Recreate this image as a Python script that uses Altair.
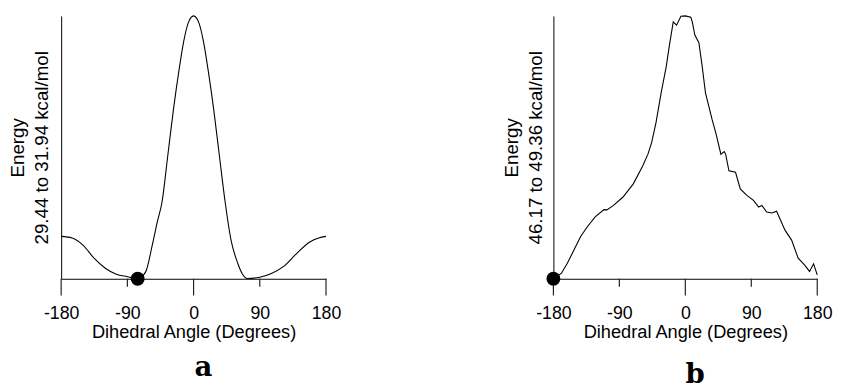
import altair as alt
import pandas as pd

# ---- data ----
x_ticks = [-180, -90, 0, 90, 180]
major_ticks = [-180, 0, 180]
minor_ticks = [-90, 90]

a_angle = [-180, -165, -150, -135, -120, -105, -90, -76, -65, -56, -49, -43, -35, -27, -20, -13.4, -7, 0,
           7, 13.4, 20, 27, 35, 43, 51, 60, 67, 73, 90, 105, 122, 140, 158, 170, 180]
a_energy = [29.843, 29.828, 29.758, 29.633, 29.540, 29.483, 29.460, 29.440, 29.508, 29.765, 29.990, 30.165,
            30.615, 31.070, 31.415, 31.698, 31.878, 31.940, 31.878, 31.698, 31.415, 31.070, 30.615, 30.165,
            29.805, 29.588, 29.478, 29.443, 29.455, 29.488, 29.555, 29.680, 29.790, 29.828, 29.843]
a_min_angle = [-76]
a_min_energy = [29.44]
a_range = [29.44, 31.94]

b_angle = [-180, -169, -161, -152, -143, -134, -123, -111, -107, -98, -85, -71, -58, -51, -46, -40, -33, -26,
           -22, -16.5, -12, -6, 0, 7.5, 9.5, 13, 18.5, 23, 27.5, 36.5, 42, 48.5, 53, 55, 59.5, 68.5, 75, 84,
           93, 100, 104.5, 111, 118, 124.5, 136, 145, 154, 162.5, 169.5, 175, 180]
b_energy = [46.170, 46.237, 46.358, 46.518, 46.680, 46.798, 46.920, 47.009, 47.006, 47.060, 47.162, 47.322,
            47.542, 47.682, 47.822, 48.065, 48.425, 48.748, 48.987, 49.287, 49.248, 49.357, 49.360, 49.344,
            49.287, 49.127, 49.035, 48.748, 48.425, 48.103, 47.925, 47.682, 47.714, 47.682, 47.481, 47.462,
            47.261, 47.181, 47.121, 47.041, 47.060, 46.980, 46.968, 46.990, 46.760, 46.639, 46.419, 46.339,
            46.259, 46.352, 46.218]
b_min_angle = [-180]
b_min_energy = [46.17]
b_range = [46.17, 49.36]

FONT = "Liberation Sans"
MAJOR_LEN = 17
MINOR_LEN = 8
TICK_COLOR = "#222222"


def panel(angles, energies, dang, den, yrange, ytitle, letter, interp, letter_offset, letter_dx, w, h,
          ytitle_pad):
    df = pd.DataFrame({"angle": angles, "energy": energies})
    dot = pd.DataFrame({"angle": dang, "energy": den})
    maj = pd.DataFrame({"angle": major_ticks})
    mnr = pd.DataFrame({"angle": minor_ticks})
    x = alt.X(
        "angle:Q",
        scale=alt.Scale(domain=[-180, 180], nice=False, zero=False),
        axis=alt.Axis(
            values=x_ticks,
            labelExpr="toString(datum.value)",
            title="Dihedral Angle (Degrees)",
            grid=False,
            ticks=False,
            labelPadding=26,
            labelFlush=False,
            titlePadding=1,
        ),
    )
    y = alt.Y(
        "energy:Q",
        scale=alt.Scale(domain=yrange, nice=False, zero=False),
        axis=alt.Axis(
            title=["Energy", ytitle],
            ticks=False,
            labels=False,
            grid=False,
            titlePadding=ytitle_pad,
            titleFontSize=19,
            titleLineHeight=24,
        ),
    )
    line = alt.Chart(df).mark_line(color="black", strokeWidth=1.1, interpolate=interp).encode(x=x, y=y)
    pt = alt.Chart(dot).mark_circle(color="black", opacity=1, size=200).encode(x=x, y=y)
    tmaj = alt.Chart(maj).mark_rule(color=TICK_COLOR, strokeWidth=1.2).encode(
        x=x, y=alt.value(h), y2=alt.value(h + MAJOR_LEN))
    tmin = alt.Chart(mnr).mark_rule(color=TICK_COLOR, strokeWidth=1.2).encode(
        x=x, y=alt.value(h), y2=alt.value(h + MINOR_LEN))
    return alt.layer(line, tmaj, tmin, pt).properties(
        width=w,
        height=h,
        title=alt.TitleParams(
            letter,
            orient="bottom",
            anchor="middle",
            font="DejaVu Serif",
            fontSize=28,
            fontWeight="bold",
            color="black",
            offset=letter_offset,
            dx=letter_dx,
        ),
    )


pa = panel(a_angle, a_energy, a_min_angle, a_min_energy, a_range, "29.44 to 31.94 kcal/mol", "a",
           "monotone", 13, 10, 269, 267, 10)
pb = panel(b_angle, b_energy, b_min_angle, b_min_energy, b_range, "46.17 to 49.36 kcal/mol", "b",
           "linear", 20, 10, 268, 267, 8)

chart = (
    alt.hconcat(pa, pb, spacing=164)
    .properties(padding={"left": 1, "top": 2, "right": 0, "bottom": 0}, background="white")
    .configure_view(stroke=None)
    .configure_axis(
        domainColor="black",
        domainWidth=1,
        grid=False,
        labelFont=FONT,
        labelFontSize=18,
        labelColor="black",
        titleFont=FONT,
        titleFontSize=18.5,
        titleFontWeight="normal",
        titleColor="black",
    )
)

chart.save("out.html", embed_options={"renderer": "svg", "actions": False})
